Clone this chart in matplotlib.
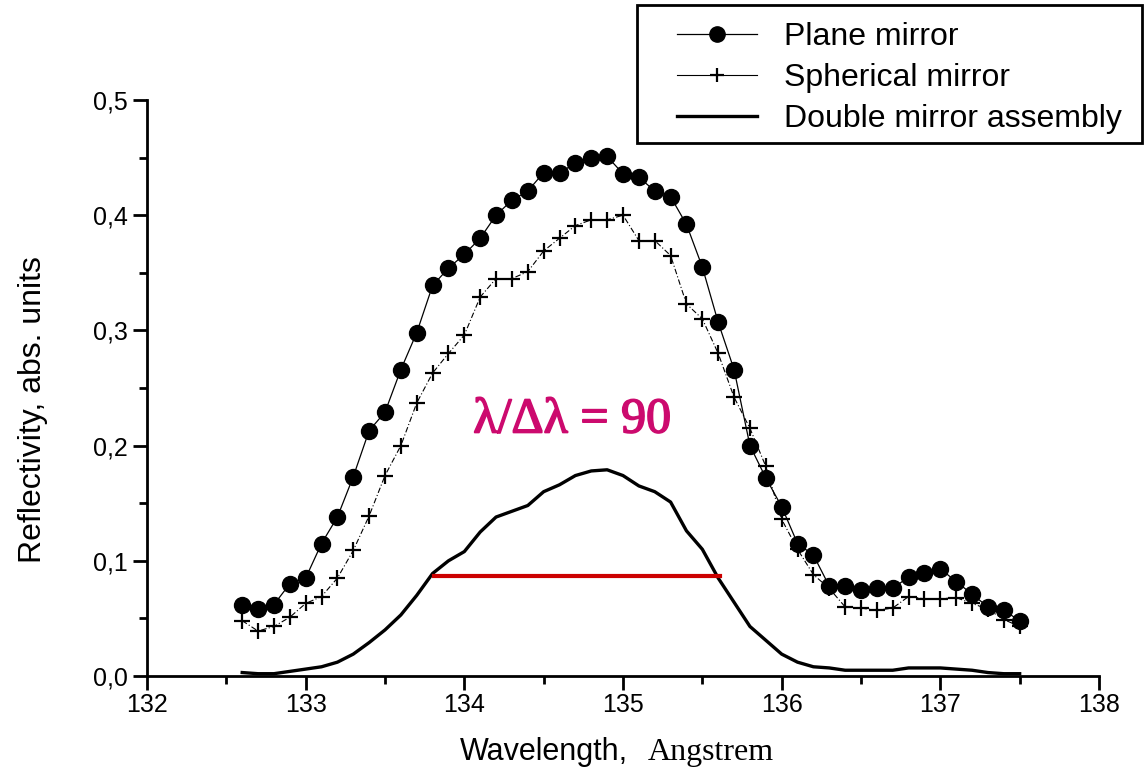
import matplotlib
matplotlib.use('Agg')
import matplotlib.pyplot as plt
import matplotlib.patheffects as pe
from matplotlib.ticker import MultipleLocator, FuncFormatter

wl = [132.6, 132.7, 132.8, 132.9, 133.0, 133.1, 133.2, 133.3, 133.4, 133.5,
      133.6, 133.7, 133.8, 133.9, 134.0, 134.1, 134.2, 134.3, 134.4, 134.5,
      134.6, 134.7, 134.8, 134.9, 135.0, 135.1, 135.2, 135.3, 135.4, 135.5,
      135.6, 135.7, 135.8, 135.9, 136.0, 136.1, 136.2, 136.3, 136.4, 136.5,
      136.6, 136.7, 136.8, 136.9, 137.0, 137.1, 137.2, 137.3, 137.4, 137.5]

plane = [0.062, 0.058, 0.062, 0.080, 0.085, 0.115, 0.138, 0.173, 0.213, 0.229,
         0.266, 0.298, 0.339, 0.354, 0.366, 0.380, 0.400, 0.413, 0.421, 0.437,
         0.437, 0.445, 0.450, 0.451, 0.436, 0.433, 0.421, 0.416, 0.392, 0.355,
         0.307, 0.266, 0.200, 0.172, 0.147, 0.115, 0.105, 0.078, 0.078, 0.075,
         0.076, 0.076, 0.086, 0.089, 0.093, 0.082, 0.071, 0.060, 0.057, 0.048]

spherical = [0.048, 0.039, 0.043, 0.051, 0.063, 0.069, 0.085, 0.109, 0.139, 0.174,
             0.200, 0.237, 0.263, 0.280, 0.296, 0.329, 0.345, 0.345, 0.351, 0.369,
             0.380, 0.391, 0.396, 0.396, 0.400, 0.378, 0.378, 0.365, 0.323, 0.310,
             0.280, 0.242, 0.215, 0.182, 0.136, 0.110, 0.088, 0.076, 0.060, 0.059,
             0.057, 0.059, 0.069, 0.067, 0.067, 0.068, 0.063, 0.058, 0.049, 0.043]

double = [0.003, 0.002, 0.002, 0.004, 0.006, 0.008, 0.012, 0.019, 0.029, 0.040,
          0.053, 0.070, 0.089, 0.100, 0.108, 0.125, 0.138, 0.143, 0.148, 0.160,
          0.166, 0.174, 0.178, 0.179, 0.174, 0.165, 0.160, 0.151, 0.126, 0.110,
          0.085, 0.064, 0.043, 0.031, 0.019, 0.012, 0.008, 0.007, 0.005, 0.005,
          0.005, 0.005, 0.007, 0.007, 0.007, 0.006, 0.005, 0.003, 0.002, 0.002]

fwhm_x = [133.81, 135.61]
fwhm_y = [0.087, 0.087]

W, H = 1146, 774
fig = plt.figure(figsize=(W / 100, H / 100), dpi=100)
ax = fig.add_axes([147 / W, 1 - 676 / H, (1099 - 147) / W, (676 - 100) / H])

ax.plot(wl, plane, '-', color='black', lw=0.9, marker='o', ms=11.5,
        mfc='black', mec='black', label='Plane mirror')
ax.plot(wl, spherical, color='black', lw=0.8, ls=(0, (5, 2, 1, 2)), marker='+',
        ms=11, mew=1.6, label='Spherical mirror')
ax.plot(wl, double, '-', color='black', lw=2.4, label='Double mirror assembly')
ax.plot(fwhm_x, fwhm_y, '-', color='#cc0000', lw=3)

ax.text(134.68, 0.222, 'λ/Δλ = 90', color='#cc0a6e', fontsize=36,
        family='Liberation Serif', ha='center', va='center',
        path_effects=[pe.withStroke(linewidth=1.2, foreground='#cc0a6e')])

ax.set_xlim(132, 138)
ax.set_ylim(0, 0.5)
ax.xaxis.set_major_locator(MultipleLocator(1))
ax.xaxis.set_minor_locator(MultipleLocator(0.5))
ax.yaxis.set_major_locator(MultipleLocator(0.1))
ax.yaxis.set_minor_locator(MultipleLocator(0.05))
ax.yaxis.set_major_formatter(FuncFormatter(lambda v, p: ('%.1f' % v).replace('.', ',')))

for s in ['top', 'right']:
    ax.spines[s].set_visible(False)
for s in ['left', 'bottom']:
    ax.spines[s].set_linewidth(2)
ax.tick_params(which='major', direction='out', length=10, width=2,
               labelsize=18, pad=4)
ax.tick_params(axis='x', which='major', pad=2)
ax.tick_params(which='minor', direction='out', length=6, width=2)
for lab in ax.get_xticklabels() + ax.get_yticklabels():
    lab.set_family('Liberation Sans')

fig.text(33 / W, 1 - 410 / H, 'Reflectivity, abs. units', fontsize=23,
         family='Liberation Sans', rotation=90, ha='center', va='center')
fig.text(628 / W, 1 - 760 / H, 'Wavelength,', fontsize=22,
         family='Liberation Sans', ha='right', va='baseline')
fig.text(648 / W, 1 - 760 / H, 'Angstrem', fontsize=23,
         family='Liberation Serif', ha='left', va='baseline')

# legend: frame drawn by hand so it spans the same box as the original
fig.patches.append(plt.Rectangle((637 / W, 1 - 143 / H), (1142 - 637) / W,
                                 (143 - 5) / H, transform=fig.transFigure,
                                 fill=False, edgecolor='black', lw=2))
leg = fig.legend(loc='upper left', bbox_to_anchor=(677 / W, 1 - 22 / H),
                 prop={'family': 'Liberation Sans', 'size': 23},
                 frameon=False, handlelength=2.5, handletextpad=0.85,
                 labelspacing=0.34, borderpad=0, borderaxespad=0, numpoints=1)
leg.legend_handles[0].set_markersize(11)
leg.legend_handles[1].set_linestyle('-')
leg.legend_handles[1].set_markersize(10)

fig.savefig('out.png', dpi=100)
